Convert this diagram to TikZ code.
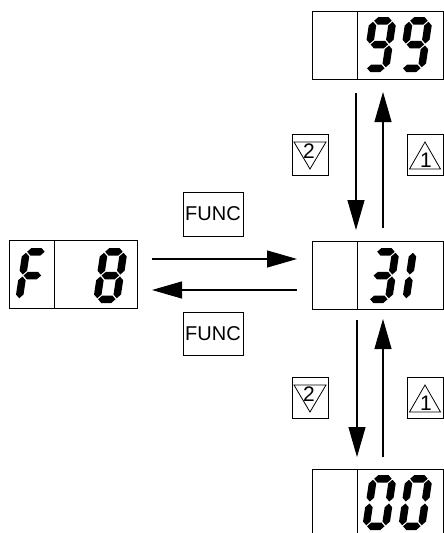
\documentclass[tikz,border=0pt]{standalone}
\usepackage{fontspec}
\newfontfamily\keyfont{Liberation Sans}
\usetikzlibrary{arrows.meta}
% seven-segment pieces (local coords, y down, top-left origin)
\def\sega{\fill (4.75,3.75)--(8.5,0)--(18.5,0)--(22.25,3.75)--(18.5,7.5)--(8.5,7.5)--cycle;}
\def\segg{\fill (4.75,27.5)--(8.5,23.75)--(18.5,23.75)--(22.25,27.5)--(18.5,31.25)--(8.5,31.25)--cycle;}
\def\segd{\fill (4.75,51.25)--(8.5,47.5)--(18.5,47.5)--(22.25,51.25)--(18.5,55)--(8.5,55)--cycle;}
\def\segf{\fill (3.75,4.75)--(7.5,8.5)--(7.5,22.75)--(3.75,26.5)--(0,22.75)--(0,8.5)--cycle;}
\def\segb{\fill (23.25,4.75)--(27,8.5)--(27,22.75)--(23.25,26.5)--(19.5,22.75)--(19.5,8.5)--cycle;}
\def\sege{\fill (3.75,28.5)--(7.5,32.25)--(7.5,46.5)--(3.75,50.25)--(0,46.5)--(0,32.25)--cycle;}
\def\segc{\fill (23.25,28.5)--(27,32.25)--(27,46.5)--(23.25,50.25)--(19.5,46.5)--(19.5,32.25)--cycle;}
\newcommand\sevseg[3]{\begin{scope}[shift={(#1,#2)}, xslant=0.15]\foreach \s in {#3}{\csname seg\s\endcsname}\end{scope}}
\begin{document}
\begin{tikzpicture}[x=1pt,y=-1pt,
  dispbox/.style={draw, line width=0.8pt, minimum width=131pt, minimum height=68pt, inner sep=0pt, outer sep=0pt},
  boxline/.style={line width=0.8pt},
  keybox/.style={draw, line width=0.8pt, inner sep=0pt, minimum width=60pt, minimum height=44pt, font=\keyfont\fontsize{20}{20}\selectfont},
  tribox/.style={draw, line width=0.8pt, inner sep=0pt, minimum width=36pt, minimum height=41pt},
  trishape/.style={line width=0.8pt, line join=miter},
  tridigit/.style={inner sep=0pt, font=\keyfont\fontsize{21}{21}\selectfont},
  arr/.style={line width=1.1pt, -{Triangle[length=30pt,width=17pt]}}]
\useasboundingbox (0,0) rectangle (444,533);
\clip (0,0) rectangle (444,533);
% display boxes
\node[dispbox] (d99) at (377.5,45.5) {};
\node[dispbox] (d31) at (377.5,275) {};
\node[dispbox, minimum width=128pt] (dF8) at (73,274) {};
\node[dispbox] (d00) at (377.5,503) {};
\foreach \n in {d99,d31,dF8,d00}
  \draw[boxline] ([xshift=45pt]\n.north west) -- ([xshift=45pt]\n.south west);
% digits
\sevseg{370}{17}{a,b,c,d,f,g}
\sevseg{406}{17}{a,b,c,d,f,g}
\sevseg{373}{248}{a,b,c,d,g}
\sevseg{410}{248}{e,f}
\sevseg{23}{248}{a,e,f,g}
\sevseg{101}{248}{a,b,c,d,e,f,g}
\sevseg{370}{475}{a,b,c,d,e,f}
\sevseg{406}{475}{a,b,c,d,e,f}
% key labels
\node[keybox] (func1) at (213,214) {FUNC};
\node[keybox, minimum height=43pt] (func2) at (213,333.5) {FUNC};
\node[tribox] (up1) at (425,155) {};
\node[tribox] (dn1) at (310,155) {};
\node[tribox] (up2) at (425,398) {};
\node[tribox] (dn2) at (310,398) {};
\foreach \n/\m in {up1/u1n, up2/u2n}{
  \begin{scope}[shift={(\n.center)}]
    \draw[trishape] (0,-13) -- (-15.5,14) -- (15.5,14) -- cycle;
    \node[tridigit] (\m) at (1,5) {1};
  \end{scope}}
\foreach \n/\m in {dn1/d1n, dn2/d2n}{
  \begin{scope}[shift={(\n.center)}]
    \draw[trishape] (-16,-13) -- (16,-13) -- (0,14) -- cycle;
    \node[tridigit] (\m) at (-1,-4) {2};
  \end{scope}}
% arrow end points
\coordinate (a1s) at (356,93);  \coordinate (a1e) at (356,230);
\coordinate (a2s) at (383,228); \coordinate (a2e) at (383,92);
\coordinate (a3s) at (152,259); \coordinate (a3e) at (297,259);
\coordinate (a4s) at (297,290); \coordinate (a4e) at (152,290);
\coordinate (a5s) at (357,320); \coordinate (a5e) at (357,457);
\coordinate (a6s) at (383,457); \coordinate (a6e) at (383,319);
\draw[arr] (a1s) -- (a1e);
\draw[arr] (a2s) -- (a2e);
\draw[arr] (a3s) -- (a3e);
\draw[arr] (a4s) -- (a4e);
\draw[arr] (a5s) -- (a5e);
\draw[arr] (a6s) -- (a6e);
\end{tikzpicture}
\end{document}
